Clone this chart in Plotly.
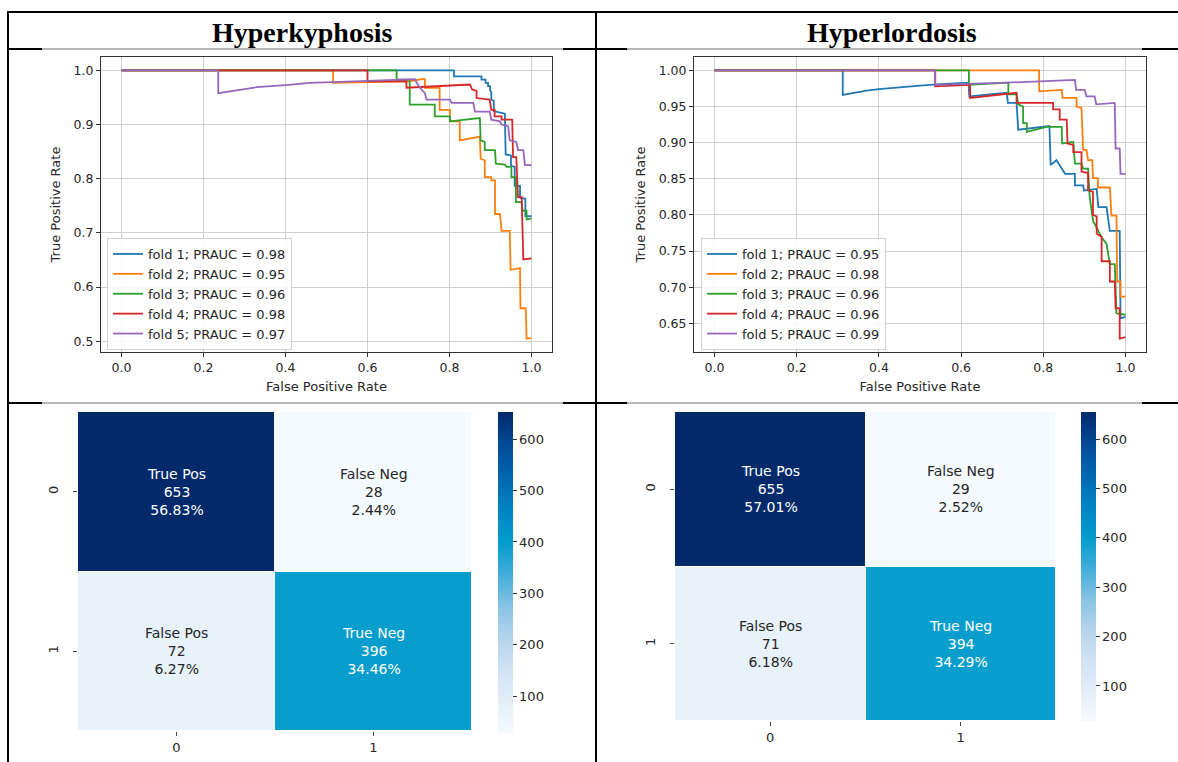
import plotly.graph_objects as go

W, H = 1178, 762

# ---------------- data ----------------
headers = ["Hyperkyphosis", "Hyperlordosis"]
fold_names = ["fold 1", "fold 2", "fold 3", "fold 4", "fold 5"]
fold_colors = ["#1f77b4", "#ff7f0e", "#2ca02c", "#d62728", "#9467bd"]
kypho_prauc = [0.98, 0.95, 0.96, 0.98, 0.97]
lordo_prauc = [0.95, 0.98, 0.96, 0.96, 0.99]

# Hyperkyphosis curves (False Positive Rate, True Positive Rate)
k1_x = [0.0, 0.811, 0.811, 0.878, 0.878, 0.888, 0.888, 0.894, 0.894, 0.899, 0.899, 0.902, 0.902, 0.908, 0.908, 0.935, 0.937, 0.950, 0.950, 0.959, 0.959, 0.972, 0.972, 0.985, 0.985, 1.0]
k1_y = [1.0, 1.0, 0.989, 0.989, 0.983, 0.983, 0.977, 0.977, 0.971, 0.971, 0.963, 0.960, 0.946, 0.944, 0.925, 0.920, 0.845, 0.843, 0.824, 0.822, 0.787, 0.787, 0.765, 0.763, 0.731, 0.731]
k2_x = [0.0, 0.516, 0.516, 0.703, 0.732, 0.740, 0.740, 0.776, 0.776, 0.801, 0.801, 0.825, 0.825, 0.874, 0.876, 0.886, 0.886, 0.902, 0.902, 0.911, 0.911, 0.923, 0.927, 0.947, 0.949, 0.972, 0.973, 0.986, 0.988, 1.0]
k2_y = [1.0, 1.0, 0.977, 0.980, 0.984, 0.984, 0.968, 0.968, 0.927, 0.927, 0.906, 0.906, 0.871, 0.878, 0.837, 0.834, 0.803, 0.803, 0.797, 0.797, 0.735, 0.735, 0.704, 0.704, 0.632, 0.635, 0.561, 0.561, 0.505, 0.506]
k3_x = [0.0, 0.671, 0.671, 0.703, 0.703, 0.764, 0.764, 0.801, 0.801, 0.874, 0.876, 0.886, 0.886, 0.911, 0.913, 0.935, 0.939, 0.951, 0.951, 0.962, 0.962, 0.976, 0.978, 0.988, 0.988, 1.0]
k3_y = [1.0, 1.0, 0.983, 0.983, 0.937, 0.937, 0.915, 0.915, 0.906, 0.912, 0.871, 0.868, 0.853, 0.853, 0.828, 0.826, 0.822, 0.822, 0.803, 0.803, 0.757, 0.757, 0.741, 0.741, 0.725, 0.727]
k4_x = [0.0, 0.600, 0.600, 0.695, 0.695, 0.850, 0.855, 0.866, 0.866, 0.898, 0.902, 0.910, 0.910, 0.927, 0.927, 0.953, 0.955, 0.963, 0.967, 0.976, 0.980, 1.0]
k4_y = [1.0, 1.0, 0.980, 0.980, 0.968, 0.974, 0.965, 0.962, 0.949, 0.946, 0.927, 0.927, 0.915, 0.915, 0.909, 0.909, 0.840, 0.840, 0.766, 0.766, 0.651, 0.653]
k5_x = [0.0, 0.236, 0.236, 0.26, 0.289, 0.33, 0.40, 0.46, 0.532, 0.60, 0.711, 0.716, 0.720, 0.728, 0.740, 0.744, 0.801, 0.805, 0.858, 0.862, 0.898, 0.902, 0.923, 0.927, 0.943, 0.947, 0.963, 0.967, 0.980, 0.984, 1.0]
k5_y = [1.0, 1.0, 0.958, 0.961, 0.965, 0.969, 0.973, 0.977, 0.979, 0.981, 0.984, 0.984, 0.977, 0.968, 0.958, 0.946, 0.946, 0.940, 0.940, 0.924, 0.924, 0.909, 0.906, 0.900, 0.897, 0.871, 0.868, 0.853, 0.853, 0.825, 0.825]

# Hyperlordosis curves
l1_x = [0.0, 0.312, 0.312, 0.34, 0.37, 0.40, 0.45, 0.50, 0.55, 0.618, 0.620, 0.711, 0.714, 0.735, 0.739, 0.804, 0.815, 0.818, 0.832, 0.853, 0.877, 0.877, 0.897, 0.899, 0.930, 0.934, 0.954, 0.962, 0.986, 0.988, 1.0]
l1_y = [1.0, 1.0, 0.966, 0.969, 0.972, 0.974, 0.977, 0.979, 0.981, 0.983, 0.964, 0.969, 0.955, 0.955, 0.918, 0.923, 0.923, 0.869, 0.876, 0.857, 0.857, 0.841, 0.841, 0.834, 0.836, 0.811, 0.811, 0.778, 0.778, 0.657, 0.659]
l2_x = [0.0, 0.790, 0.790, 0.845, 0.847, 0.881, 0.881, 0.893, 0.897, 0.905, 0.909, 0.919, 0.921, 0.933, 0.933, 0.962, 0.966, 0.978, 0.980, 0.988, 0.988, 1.0]
l2_y = [1.0, 1.0, 0.971, 0.973, 0.962, 0.962, 0.950, 0.948, 0.890, 0.890, 0.876, 0.876, 0.851, 0.851, 0.838, 0.838, 0.799, 0.799, 0.708, 0.708, 0.687, 0.687]
l3_x = [0.0, 0.619, 0.619, 0.715, 0.715, 0.735, 0.739, 0.751, 0.751, 0.760, 0.760, 0.808, 0.845, 0.846, 0.873, 0.877, 0.893, 0.897, 0.909, 0.913, 0.921, 0.930, 0.942, 0.954, 0.962, 0.974, 0.978, 1.0]
l3_y = [1.0, 1.0, 0.980, 0.983, 0.967, 0.967, 0.953, 0.950, 0.927, 0.927, 0.915, 0.922, 0.922, 0.899, 0.901, 0.871, 0.871, 0.864, 0.864, 0.825, 0.792, 0.783, 0.769, 0.760, 0.732, 0.732, 0.664, 0.662]
l4_x = [0.0, 0.537, 0.537, 0.622, 0.622, 0.735, 0.735, 0.824, 0.824, 0.840, 0.840, 0.857, 0.859, 0.873, 0.873, 0.893, 0.893, 0.909, 0.909, 0.921, 0.921, 0.930, 0.930, 0.942, 0.942, 0.962, 0.962, 0.974, 0.976, 0.986, 0.986, 1.0]
l4_y = [1.0, 1.0, 0.978, 0.980, 0.962, 0.969, 0.955, 0.955, 0.946, 0.946, 0.932, 0.932, 0.899, 0.897, 0.887, 0.887, 0.860, 0.858, 0.834, 0.832, 0.800, 0.798, 0.774, 0.770, 0.736, 0.736, 0.708, 0.708, 0.671, 0.671, 0.629, 0.631]
l5_x = [0.0, 0.537, 0.537, 0.711, 0.877, 0.880, 0.901, 0.905, 0.925, 0.929, 0.974, 0.976, 0.986, 0.988, 1.0]
l5_y = [1.0, 1.0, 0.980, 0.983, 0.987, 0.973, 0.973, 0.964, 0.964, 0.953, 0.955, 0.892, 0.892, 0.857, 0.857]

# Confusion matrices
cm_labels = ["True Pos", "False Neg", "False Pos", "True Neg"]
cm_axis_labels = ["0", "1"]
kypho_cm = [[653, 28], [72, 396]]
lordo_cm = [[655, 29], [71, 394]]
cbar_ticks = [100, 200, 300, 400, 500, 600]

kypho_curves = [(k1_x, k1_y), (k2_x, k2_y), (k3_x, k3_y), (k4_x, k4_y), (k5_x, k5_y)]
lordo_curves = [(l1_x, l1_y), (l2_x, l2_y), (l3_x, l3_y), (l4_x, l4_y), (l5_x, l5_y)]

# ---------------- helpers ----------------
def xdom(a, b):
    return [a / W, b / W]

def ydom(top, bottom):
    return [1 - bottom / H, 1 - top / H]

FONT = "DejaVu Sans"
TXT = "#262626"

blues = [
    [0.0, "#f5faff"], [0.1, "#e2eef9"], [0.2, "#cfe2f3"], [0.3, "#b3d3ec"],
    [0.4, "#84c1e3"], [0.5, "#3eacd9"], [0.6, "#009bcc"], [0.7, "#0083c2"],
    [0.8, "#0066b0"], [0.9, "#034996"], [1.0, "#022a6b"],
]

fig = go.Figure()

# ROC / PR curves
for curves, aucs, xa, ya, leg in [
    (kypho_curves, kypho_prauc, "x", "y", "legend"),
    (lordo_curves, lordo_prauc, "x2", "y2", "legend2"),
]:
    for (cx, cy), auc, name, col in zip(curves, aucs, fold_names, fold_colors):
        fig.add_trace(go.Scatter(
            x=cx, y=cy, mode="lines", xaxis=xa, yaxis=ya, legend=leg,
            name=f"{name}; PRAUC = {auc:.2f}",
            line=dict(color=col, width=1.8),
        ))

# Heatmaps
cbar_specs = [
    dict(x=498 / W, y=1 - 412 / H, len=321 / H),
    dict(x=1081 / W, y=1 - 412 / H, len=309 / H),
]
for cm, xa, ya, cb in [(kypho_cm, "x3", "y3", cbar_specs[0]),
                        (lordo_cm, "x4", "y4", cbar_specs[1])]:
    fig.add_trace(go.Heatmap(
        z=cm, x=[0, 1], y=[0, 1], xaxis=xa, yaxis=ya,
        colorscale=blues, xgap=1, ygap=1, showscale=True,
        colorbar=dict(
            x=cb["x"], xanchor="left", y=cb["y"], yanchor="top",
            len=cb["len"], lenmode="fraction", thickness=15,
            xpad=0, ypad=0, outlinewidth=0,
            ticks="outside", ticklen=4, tickcolor="#333",
            tickvals=cbar_ticks, tickfont=dict(family=FONT, size=13, color=TXT),
        ),
        hoverinfo="skip",
    ))
    flat = [v for row in cm for v in row]
    total = sum(flat)
    zmin, zmax = min(flat), max(flat)
    k = 0
    for r in range(2):
        for c in range(2):
            v = cm[r][c]
            col = "#ffffff" if v > (zmin + zmax) / 2 else TXT
            fig.add_annotation(
                x=c, y=r, xref=xa, yref=ya, showarrow=False,
                text=f"{cm_labels[k]}<br>{v}<br>{100 * v / total:.2f}%",
                font=dict(family=FONT, size=14, color=col),
                align="center",
            )
            k += 1

# ---------------- axes ----------------
roc_common = dict(
    showgrid=True, gridcolor="#d0d0d0", gridwidth=1, zeroline=False,
    showline=True, linecolor="#333", linewidth=1, mirror=True,
    ticks="outside", ticklen=4, tickcolor="#333",
    tickfont=dict(family=FONT, size=12.5, color=TXT),
)

def yrange(curves):
    ys = [v for _, cy in curves for v in cy]
    lo, hi = min(ys), max(ys)
    m = 0.05 * (hi - lo)
    return [lo - m, hi + m]

xt = [0.0, 0.2, 0.4, 0.6, 0.8, 1.0]
fig.update_layout(
    xaxis=dict(domain=xdom(101, 552), anchor="y", range=[-0.05, 1.05],
               tickvals=xt, tickformat=".1f",
               title=dict(text="False Positive Rate", standoff=7,
                          font=dict(family=FONT, size=13, color=TXT)),
               **roc_common),
    yaxis=dict(domain=ydom(57, 352), anchor="x", range=yrange(kypho_curves),
               tickvals=[0.5, 0.6, 0.7, 0.8, 0.9, 1.0], tickformat=".1f",
               title=dict(text="True Positive Rate", standoff=10,
                          font=dict(family=FONT, size=13, color=TXT)),
               **roc_common),
    xaxis2=dict(domain=xdom(694, 1146), anchor="y2", range=[-0.05, 1.05],
                tickvals=xt, tickformat=".1f",
                title=dict(text="False Positive Rate", standoff=7,
                           font=dict(family=FONT, size=13, color=TXT)),
                **roc_common),
    yaxis2=dict(domain=ydom(57, 352), anchor="x2", range=yrange(lordo_curves),
                tickvals=[0.65, 0.70, 0.75, 0.80, 0.85, 0.90, 0.95, 1.00],
                tickformat=".2f",
                title=dict(text="True Positive Rate", standoff=10,
                           font=dict(family=FONT, size=13, color=TXT)),
                **roc_common),
)

hm_common = dict(
    showgrid=False, zeroline=False, showline=False,
    ticks="outside", ticklen=4, tickcolor="#444",
    tickvals=[0, 1], ticktext=cm_axis_labels,
    tickfont=dict(family=FONT, size=13, color=TXT),
)
fig.update_layout(
    xaxis3=dict(domain=xdom(78, 472), anchor="y3", range=[-0.5, 1.5], **hm_common),
    yaxis3=dict(domain=ydom(412, 731), anchor="x3", range=[1.5, -0.5],
                tickangle=-90, ticklabelstandoff=10, **hm_common),
    xaxis4=dict(domain=xdom(675, 1056), anchor="y4", range=[-0.5, 1.5], **hm_common),
    yaxis4=dict(domain=ydom(412, 721), anchor="x4", range=[1.5, -0.5],
                tickangle=-90, ticklabelstandoff=10, **hm_common),
)

legend_common = dict(
    xanchor="left", yanchor="top",
    bgcolor="rgba(255,255,255,0.85)", bordercolor="#d0d0d0", borderwidth=1,
    font=dict(family=FONT, size=13, color=TXT),
)
fig.update_layout(
    legend=dict(x=107 / W, y=1 - 238 / H, **legend_common),
    legend2=dict(x=701 / W, y=1 - 238 / H, **legend_common),
)

# ---------------- table frame ----------------
shapes = []
def hline(y, x0, x1, color="black", w=2):
    shapes.append(dict(type="line", xref="paper", yref="paper",
                       x0=x0 / W, x1=x1 / W, y0=1 - y / H, y1=1 - y / H,
                       line=dict(color=color, width=w)))

def vline(x, y0, y1, color="black", w=2):
    shapes.append(dict(type="line", xref="paper", yref="paper",
                       x0=x / W, x1=x / W, y0=1 - y0 / H, y1=1 - y1 / H,
                       line=dict(color=color, width=w)))

hline(12, 7, 1178)
for yy in (49, 403):
    hline(yy, 7, 1178)
    hline(yy, 42, 563, color="#ffffff", w=3)
    hline(yy, 42, 563, color="#6e6e6e", w=1)
    hline(yy, 627, 1142, color="#ffffff", w=3)
    hline(yy, 627, 1142, color="#6e6e6e", w=1)
vline(8, 11, 762)
vline(596, 11, 762)

for text, cx in zip(headers, [302, 892]):
    fig.add_annotation(
        x=cx / W, y=1 - 32 / H, xref="paper", yref="paper", showarrow=False,
        xanchor="center", yanchor="middle",
        text=f"<b>{text}</b>",
        font=dict(family="Liberation Serif", size=28, color="black"),
    )

fig.update_layout(
    shapes=shapes,
    width=W, height=H,
    margin=dict(l=0, r=0, t=0, b=0),
    paper_bgcolor="white", plot_bgcolor="white",
    showlegend=True,
)

fig.write_html(
    "out.html",
    config={"displayModeBar": False},
    post_script="document.body.style.margin='0px';document.body.style.overflow='hidden';",
)
